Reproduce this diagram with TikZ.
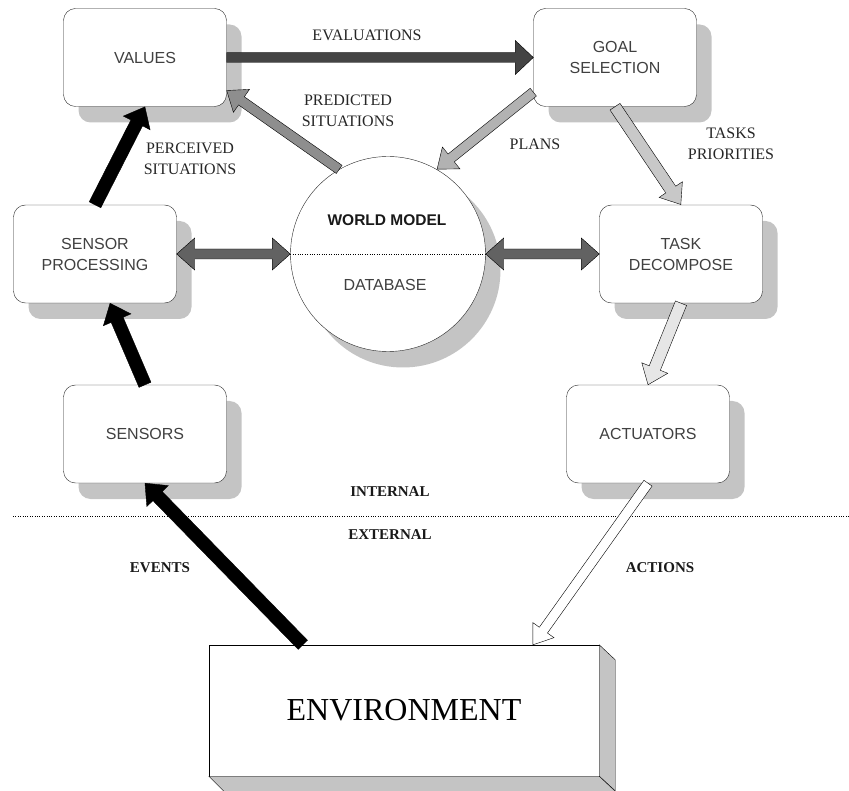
\documentclass[tikz,border=0pt]{standalone}
\usepackage{fontspec}
\setmainfont{Liberation Serif}
\setsansfont{Liberation Sans}
\usepackage{tikz}
\usetikzlibrary{calc,shadows,positioning}
\definecolor{sombra}{HTML}{C4C4C4}
\definecolor{evalgris}{HTML}{444444}
\definecolor{dblgris}{HTML}{626262}
\definecolor{predgris}{HTML}{8E8E8E}
\definecolor{plangris}{HTML}{B2B2B2}
\definecolor{tareagris}{HTML}{C8C8C8}
\definecolor{actgris}{HTML}{E6E6E6}
\tikzset{
  blok/.style={draw=black!85,thin,fill=white,rounded corners=12pt,minimum width=163pt,
    minimum height=98pt,align=center,text=black!75,font=\sffamily\fontsize{16}{21}\selectfont,
    drop shadow={shadow xshift=15pt,shadow yshift=-16pt,fill=sombra,opacity=1}},
  rotulo/.style={font=\fontsize{16}{21}\selectfont,align=center,text=black!85},
  zona/.style={font=\bfseries\fontsize{15}{18}\selectfont,text=black!90},
  flecha/.style={draw=black,thin,line join=miter}
}
% block arrow: style, from, to, half shaft, half head
\newcommand{\bigarrow}[5]{%
  \path[#1] let \p1=(#2), \p2=(#3), \n1={atan2(\y2-\y1,\x2-\x1)},
    \n2={veclen(\x2-\x1,\y2-\y1)} in
    {[shift={(\x1,\y1)},rotate=\n1]
    (0pt,-#4pt) -- (\n2-18pt,-#4pt) -- (\n2-18pt,-#5pt) -- (\n2+0pt,0pt)
    -- (\n2-18pt,#5pt) -- (\n2-18pt,#4pt) -- (0pt,#4pt) -- cycle};
}
\newcommand{\dblarrow}[5]{%
  \path[#1] let \p1=(#2), \p2=(#3), \n1={atan2(\y2-\y1,\x2-\x1)},
    \n2={veclen(\x2-\x1,\y2-\y1)} in
    {[shift={(\x1,\y1)},rotate=\n1]
    (0pt,0pt) -- (18pt,#5pt) -- (18pt,#4pt) -- (\n2-18pt,#4pt) -- (\n2-18pt,#5pt)
    -- (\n2+0pt,0pt) -- (\n2-18pt,-#5pt) -- (\n2-18pt,-#4pt) -- (18pt,-#4pt)
    -- (18pt,-#5pt) -- cycle};
}

\begin{document}
\begin{tikzpicture}[x=1pt,y=-1pt]
\useasboundingbox (0,0) rectangle (849,791);
% cajas
\node[blok] (values) at (145,57.5) {VALUES};
\node[blok] (goal) at (615,57.5) {GOAL\\SELECTION};
\node[blok] (sp) at (95,254) {SENSOR\\PROCESSING};
\node[blok] (task) at (681,254) {TASK\\DECOMPOSE};
\node[blok] (sensors) at (145,434) {SENSORS};
\node[blok] (act) at (648,434) {ACTUATORS};
% world model
\node[circle,draw=black!85,thin,fill=white,minimum size=195pt,
  drop shadow={shadow xshift=15pt,shadow yshift=-16pt,fill=sombra,opacity=1}] (wm) at (388,254) {};
\draw[dotted,thin] (wm.west) -- (wm.east);
\node[font=\sffamily\bfseries\fontsize{15.5}{18}\selectfont,text=black!90] (wmtop) at (387,220) {WORLD MODEL};
\node[font=\sffamily\fontsize{16}{18}\selectfont,text=black!75] (wmbot) at (385,285) {DATABASE};
% environment
\node[draw,thin,fill=white,minimum width=390pt,minimum height=131pt,
  font=\fontsize{32}{36}\selectfont] (env) at (404,710.5) {ENVIRONMENT};
\draw[thin,fill=sombra] (env.north east) -- ++(16,15) -- ++(0,131) -- (env.south east) -- cycle;
\draw[thin,fill=sombra] (env.south west) -- (env.south east) -- ++(16,15) -- ($(env.south west)+(15,15)$) -- cycle;
\draw[dotted,thin] (13,516) -- (849,516);
% rotulos
\node[rotulo] (leval) at (367,35) {EVALUATIONS};
\node[rotulo] (lpred) at (348,111) {PREDICTED\\SITUATIONS};
\node[rotulo] (lperc) at (190,159) {PERCEIVED\\SITUATIONS};
\node[rotulo] (lplan) at (535,144) {PLANS};
\node[rotulo] (ltask) at (731,144) {TASKS\\PRIORITIES};
\node[zona] (lint) at (390,492) {INTERNAL};
\node[zona] (lext) at (390,535) {EXTERNAL};
\node[zona] (levt) at (160,568) {EVENTS};
\node[zona] (lact) at (660,568) {ACTIONS};
% flechas
\bigarrow{flecha,fill=evalgris}{values.east}{goal.west}{5}{17}
\bigarrow{flecha,fill=predgris}{wm.120}{values.-22}{5}{14}
\bigarrow{flecha,fill=plangris}{goal.203}{wm.60}{5}{14}
\bigarrow{flecha,fill=tareagris}{goal.south}{task.north}{6}{14}
\bigarrow{flecha,fill=actgris}{task.south}{act.north}{6}{14}
\bigarrow{flecha,fill=white}{act.south}{env.27}{5}{13}
\bigarrow{flecha,fill=black}{env.147}{sensors.south}{6.5}{15}
\bigarrow{flecha,fill=black}{sensors.north}{sp.-73}{6.5}{15}
\bigarrow{flecha,fill=black}{sp.north}{values.south}{6.5}{15}
\dblarrow{flecha,fill=dblgris}{sp.east}{wm.west}{5}{16}
\dblarrow{flecha,fill=dblgris}{wm.east}{task.west}{5}{16}
\end{tikzpicture}
\end{document}
